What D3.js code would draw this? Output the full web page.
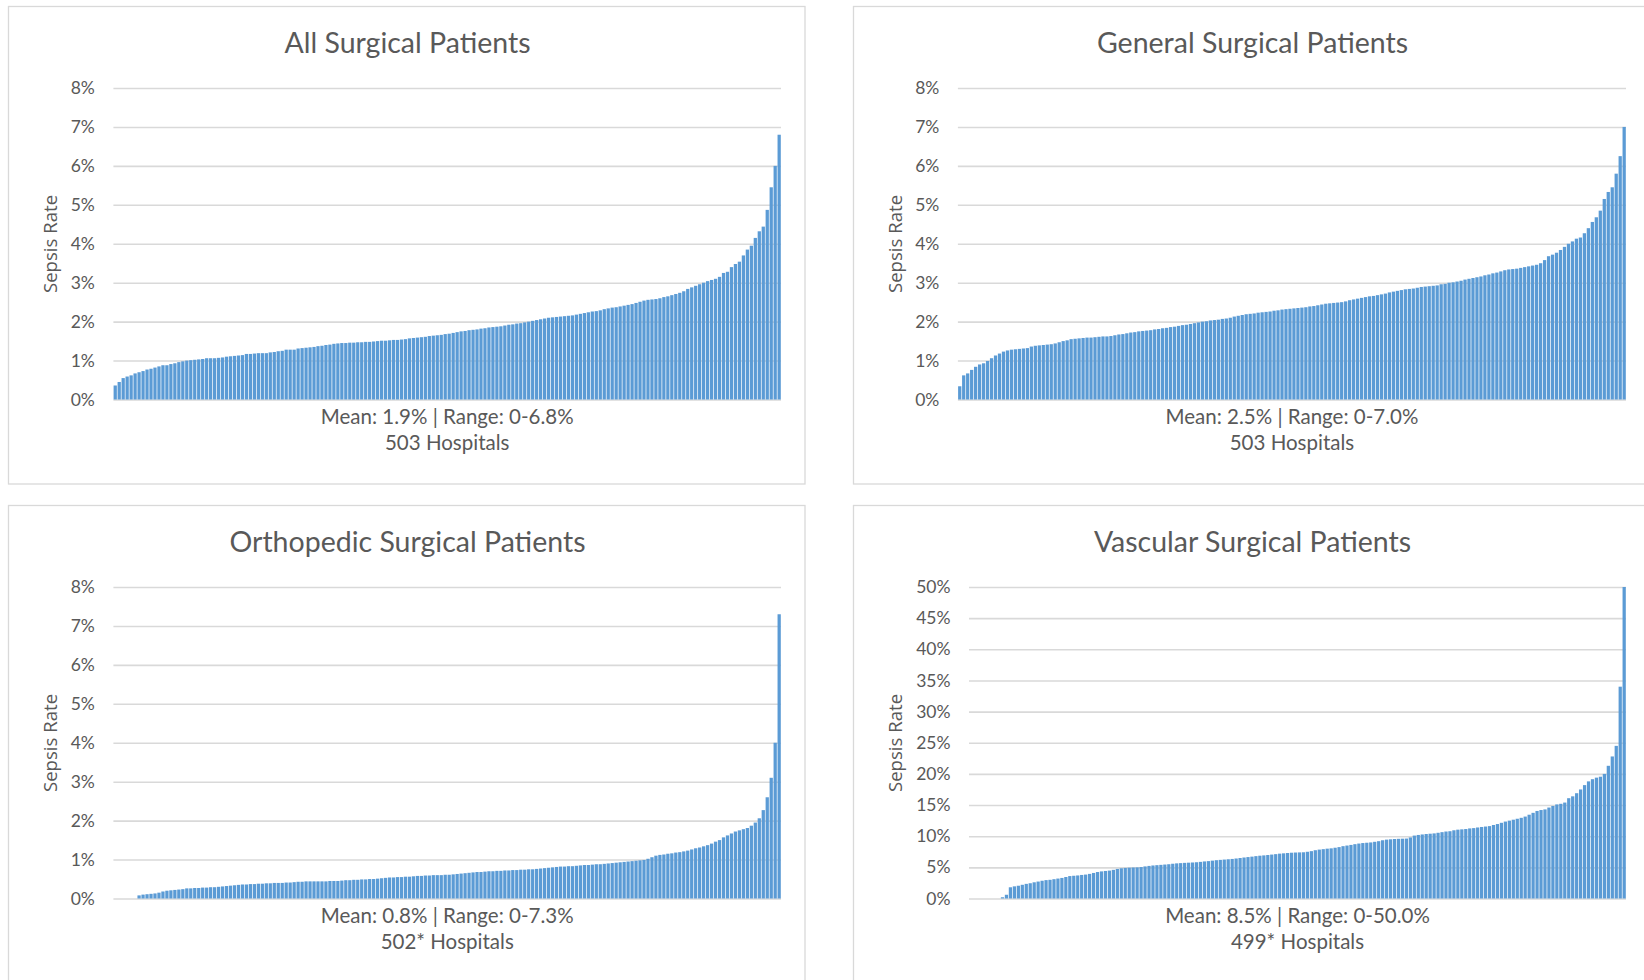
<!DOCTYPE html>
<html><head><meta charset="utf-8">
<script src="https://cdn.jsdelivr.net/npm/d3@7"></script>
<style>html,body{margin:0;padding:0;background:#fff;} svg{display:block;}</style>
</head><body><svg id="chart" width="1644" height="980"></svg>
<script>
// ---- Data (sepsis rate %, hospitals sorted ascending) ----
const allSurgical = [
0.36,0.45,0.55,0.59,0.62,0.67,0.70,0.73,0.77,0.79,
0.82,0.85,0.88,0.88,0.91,0.93,0.96,0.98,1.00,1.01,
1.02,1.03,1.04,1.06,1.06,1.06,1.07,1.08,1.10,1.11,
1.12,1.13,1.14,1.17,1.17,1.18,1.19,1.19,1.19,1.21,
1.22,1.24,1.25,1.28,1.28,1.28,1.31,1.32,1.33,1.34,
1.35,1.37,1.38,1.40,1.41,1.43,1.44,1.45,1.45,1.46,
1.46,1.47,1.47,1.48,1.48,1.49,1.50,1.51,1.51,1.52,
1.53,1.53,1.54,1.55,1.57,1.58,1.59,1.60,1.61,1.63,
1.64,1.65,1.66,1.68,1.69,1.71,1.73,1.75,1.76,1.78,
1.79,1.80,1.82,1.83,1.85,1.86,1.87,1.88,1.90,1.92,
1.93,1.95,1.96,1.98,2.00,2.02,2.04,2.06,2.08,2.10,
2.11,2.12,2.13,2.14,2.15,2.16,2.18,2.20,2.22,2.24,
2.26,2.27,2.29,2.32,2.34,2.36,2.37,2.39,2.41,2.43,
2.45,2.48,2.51,2.54,2.56,2.57,2.58,2.60,2.63,2.65,
2.68,2.71,2.74,2.78,2.84,2.88,2.92,2.96,3.00,3.04,
3.07,3.10,3.15,3.25,3.28,3.40,3.48,3.54,3.70,3.85,
3.95,4.15,4.32,4.44,4.87,5.45,6.00,6.80];

const generalSurgical = [
0.34,0.62,0.67,0.76,0.84,0.90,0.93,0.99,1.06,1.13,
1.18,1.23,1.26,1.28,1.29,1.30,1.31,1.32,1.36,1.38,
1.39,1.40,1.41,1.42,1.44,1.47,1.50,1.52,1.55,1.56,
1.57,1.58,1.59,1.59,1.60,1.61,1.62,1.62,1.63,1.65,
1.67,1.68,1.70,1.72,1.73,1.75,1.76,1.77,1.78,1.80,
1.81,1.83,1.84,1.86,1.87,1.89,1.91,1.92,1.94,1.96,
1.98,2.00,2.01,2.03,2.04,2.05,2.07,2.08,2.10,2.13,
2.15,2.17,2.19,2.20,2.21,2.23,2.24,2.25,2.26,2.28,
2.29,2.31,2.32,2.33,2.34,2.35,2.36,2.37,2.39,2.40,
2.42,2.44,2.46,2.47,2.48,2.49,2.50,2.52,2.55,2.57,
2.59,2.61,2.63,2.65,2.66,2.68,2.70,2.72,2.75,2.77,
2.79,2.81,2.83,2.84,2.85,2.87,2.89,2.90,2.91,2.92,
2.93,2.96,2.97,3.00,3.01,3.03,3.05,3.08,3.10,3.12,
3.14,3.16,3.19,3.21,3.24,3.26,3.29,3.32,3.34,3.35,
3.36,3.38,3.40,3.42,3.44,3.46,3.50,3.58,3.68,3.72,
3.77,3.84,3.92,4.00,4.06,4.13,4.16,4.27,4.40,4.56,
4.68,4.85,5.15,5.33,5.45,5.80,6.25,7.00];

const orthopedicSurgical = [
0,0,0,0,0,0,0.08,0.10,0.11,0.12,
0.13,0.15,0.18,0.20,0.21,0.22,0.23,0.24,0.26,0.26,
0.27,0.27,0.28,0.28,0.29,0.29,0.30,0.31,0.32,0.33,
0.34,0.35,0.36,0.36,0.37,0.37,0.38,0.38,0.39,0.39,
0.40,0.40,0.40,0.41,0.41,0.42,0.43,0.43,0.44,0.44,
0.44,0.44,0.44,0.44,0.45,0.45,0.45,0.46,0.47,0.47,
0.48,0.48,0.49,0.49,0.50,0.50,0.51,0.52,0.53,0.54,
0.54,0.55,0.55,0.56,0.56,0.57,0.58,0.58,0.59,0.59,
0.60,0.60,0.60,0.61,0.61,0.62,0.63,0.64,0.65,0.66,
0.67,0.68,0.68,0.69,0.70,0.70,0.71,0.71,0.72,0.72,
0.73,0.73,0.74,0.74,0.75,0.75,0.76,0.77,0.78,0.79,
0.80,0.81,0.82,0.82,0.83,0.83,0.84,0.85,0.86,0.86,
0.87,0.88,0.88,0.89,0.90,0.91,0.92,0.93,0.94,0.95,
0.96,0.97,0.98,0.99,1.02,1.06,1.10,1.12,1.13,1.15,
1.16,1.18,1.19,1.21,1.23,1.26,1.29,1.31,1.34,1.37,
1.41,1.46,1.50,1.57,1.62,1.67,1.72,1.75,1.78,1.81,
1.87,1.95,2.06,2.27,2.60,3.10,4.00,7.30];

const vascularSurgical = [
0,0,0,0,0,0,0,0,0.2,0.6,
1.8,1.95,2.05,2.2,2.35,2.45,2.6,2.72,2.85,2.95,
3.0,3.1,3.2,3.3,3.45,3.6,3.65,3.7,3.78,3.84,
3.95,4.1,4.25,4.35,4.42,4.48,4.6,4.75,4.85,4.91,
4.95,4.98,5.0,5.05,5.15,5.23,5.3,5.35,5.4,5.45,
5.5,5.58,5.64,5.68,5.72,5.75,5.78,5.82,5.88,5.95,
6.0,6.08,6.15,6.2,6.25,6.3,6.35,6.42,6.5,6.58,
6.65,6.72,6.8,6.87,6.92,6.98,7.05,7.12,7.2,7.25,
7.3,7.35,7.38,7.4,7.42,7.5,7.6,7.75,7.85,7.92,
8.0,8.05,8.15,8.25,8.4,8.5,8.6,8.72,8.82,8.9,
8.95,9.0,9.1,9.2,9.35,9.45,9.5,9.55,9.58,9.6,
9.62,9.8,10.1,10.2,10.28,10.35,10.4,10.45,10.55,10.65,
10.75,10.8,10.95,11.05,11.1,11.15,11.25,11.3,11.4,11.48,
11.55,11.62,11.8,11.95,12.15,12.35,12.5,12.65,12.8,12.95,
13.15,13.45,13.75,14.05,14.2,14.3,14.6,14.85,15.1,15.2,
15.4,16.1,16.4,16.9,17.5,18.2,18.8,19.15,19.4,19.55,
20.0,21.3,22.8,24.5,34.0,50.0];

const ticksLow = [0,1,2,3,4,5,6,7,8];
const ticksVascular = [0,5,10,15,20,25,30,35,40,45,50];
const titles = ["All Surgical Patients","General Surgical Patients","Orthopedic Surgical Patients","Vascular Surgical Patients"];
const summaries = ["Mean: 1.9% | Range: 0-6.8%","Mean: 2.5% | Range: 0-7.0%","Mean: 0.8% | Range: 0-7.3%","Mean: 8.5% | Range: 0-50.0%"];
const hospitalLabels = ["503 Hospitals","503 Hospitals","502* Hospitals","499* Hospitals"];
const yAxisLabel = "Sepsis Rate";

// ---- Layout ----
const series = [allSurgical, generalSurgical, orthopedicSurgical, vascularSurgical];
const tickSets = [ticksLow, ticksLow, ticksLow, ticksVascular];
const offsets = [[0,0],[845,0],[0,499],[845,499]];
const plotLefts = [113.4, 112.9, 113.4, 124];
const plotRight = 781;
const yBottom = 399.5, yTop = 88;
const textColor = "#595959";
const calibriLike = "Lato, 'Open Sans', sans-serif";

const svg = d3.select("#chart");
svg.append("rect").attr("width",1644).attr("height",980).attr("fill","#fff");

series.forEach((values, k) => {
  const [ox, oy] = offsets[k];
  const plotL = plotLefts[k];
  const ticks = tickSets[k];
  const g = svg.append("g").attr("transform", `translate(${ox},${oy})`);

  g.append("rect").attr("x",8.5).attr("y",6.5).attr("width",796.5).attr("height",477.5)
    .attr("fill","#fff").attr("stroke","#d9d9d9").attr("stroke-width",1.3);

  const x = d3.scaleBand().domain(d3.range(values.length)).range([plotL, plotRight])
    .paddingInner(0.18).paddingOuter(0.05);
  const y = d3.scaleLinear().domain([0, d3.max(ticks)]).range([yBottom, yTop]);

  const axis = d3.axisLeft(y).tickValues(ticks).tickSize(-(plotRight - plotL))
    .tickPadding(18.5).tickFormat(d => d + "%");
  const ax = g.append("g").attr("transform", `translate(${plotL},0)`).call(axis);
  ax.select(".domain").remove();
  ax.selectAll(".tick line").attr("stroke","#d9d9d9").attr("stroke-width",1.6);
  ax.selectAll(".tick text").attr("fill",textColor)
    .style("font-family",calibriLike).style("font-size","17.5px");

  g.append("g").selectAll("rect").data(values).join("rect")
    .attr("x",(d,i) => x(i)).attr("width",x.bandwidth())
    .attr("y",d => y(d)).attr("height",d => y(0) - y(d))
    .attr("fill","#5b9bd5");

  g.append("text").attr("x",407.5).attr("y",52.7).attr("text-anchor","middle")
    .attr("fill",textColor).style("font-family",calibriLike).style("font-size","28.5px")
    .text(titles[k]);

  g.append("text").attr("transform","translate(57,244) rotate(-90)").attr("text-anchor","middle")
    .attr("fill",textColor).style("font-family","'Open Sans', sans-serif").style("font-size","18.6px")
    .text(yAxisLabel);

  const cx = (plotL + plotRight) / 2;
  g.append("text").attr("x",cx).attr("y",424).attr("text-anchor","middle")
    .attr("fill",textColor).style("font-family",calibriLike).style("font-size","20.5px")
    .text(summaries[k]);
  g.append("text").attr("x",cx).attr("y",450).attr("text-anchor","middle")
    .attr("fill",textColor).style("font-family",calibriLike).style("font-size","20.5px")
    .text(hospitalLabels[k]);
});
</script>
</body></html>
